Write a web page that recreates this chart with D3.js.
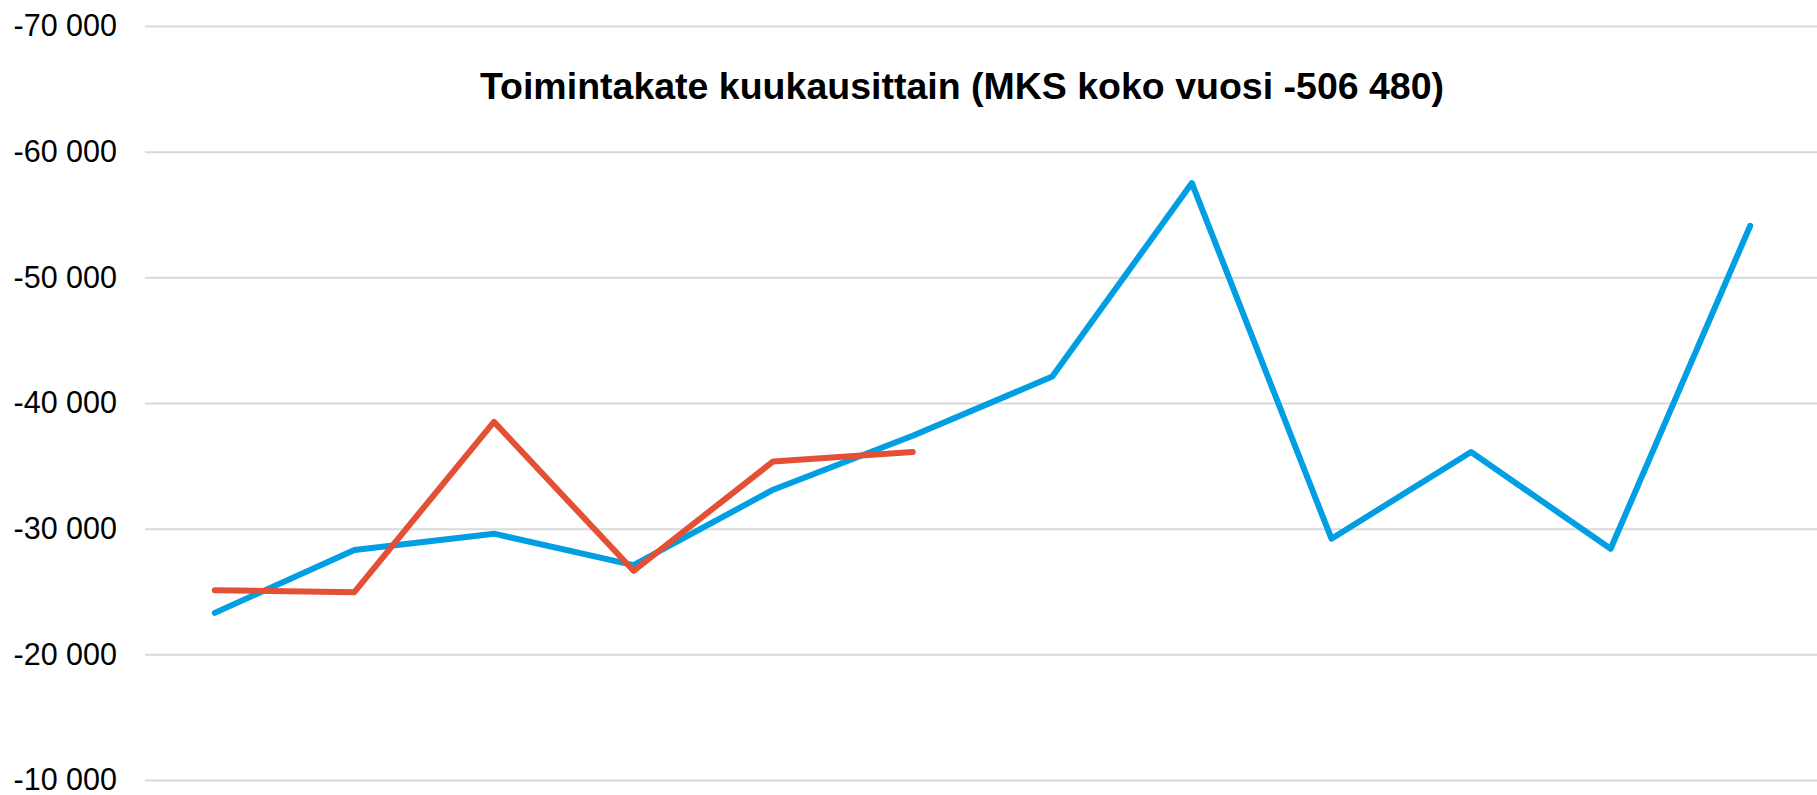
<!DOCTYPE html>
<html>
<head>
<meta charset="utf-8">
<script src="https://cdn.jsdelivr.net/npm/d3@7"></script>
<style>
  html, body { margin: 0; padding: 0; background: #fff; }
  svg { display: block; }
</style>
</head>
<body>
<script>
(function (d3) {
  "use strict";

  /***** Data *****/
  var months = ["1", "2", "3", "4", "5", "6", "7", "8", "9", "10", "11", "12"];
  var edellinenVuosi = [-23300, -28300, -29600, -27100, -33100, -37400,
                        -42100, -57500, -29200, -36100, -28400, -54100];
  var kuluvaVuosi = [-25100, -24950, -38500, -26650, -35350, -36100];
  var yTicks = [-70000, -60000, -50000, -40000, -30000, -20000, -10000];
  var chartTitle = "Toimintakate kuukausittain (MKS koko vuosi -506 480)";

  /***** Configuration *****/
  var width = 1817, height = 795;
  var margin = { top: 26, right: -3, bottom: 15, left: 145 };

  var fiLocale = d3.formatLocale({ decimal: ",", thousands: "\u00a0", grouping: [3], currency: ["", " €"], minus: "-" });
  var fmt = fiLocale.format(",d");

  /***** Scales *****/
  var xScale = d3.scaleBand()
      .domain(months)
      .range([margin.left, width - margin.right]);
  var yScale = d3.scaleLinear()
      .domain([-10000, -70000])
      .range([height - margin.bottom, margin.top]);

  var svg = d3.select("body").append("svg")
      .attr("width", width)
      .attr("height", height);

  /***** Grid + y labels *****/
  var yAxis = d3.axisLeft(yScale)
      .tickValues(yTicks)
      .tickSize(-(width - margin.left))
      .tickPadding(28)
      .tickFormat(fmt);

  var axisG = svg.append("g")
      .attr("transform", "translate(" + margin.left + ",0)")
      .call(yAxis);
  axisG.select(".domain").remove();
  axisG.selectAll(".tick line")
      .attr("stroke", "#d9d9d9")
      .attr("stroke-width", 2);
  axisG.selectAll(".tick text")
      .attr("fill", "#000")
      .style("font-family", "'Liberation Sans', Arial, sans-serif")
      .style("font-size", "30.5px");

  /***** Title *****/
  svg.append("text")
      .attr("x", 962)
      .attr("y", 99)
      .attr("text-anchor", "middle")
      .style("font-family", "'Liberation Sans', Arial, sans-serif")
      .style("font-weight", "bold")
      .style("font-size", "37.5px")
      .text(chartTitle);

  /***** Lines *****/
  var line = d3.line()
      .x(function (d, i) { return xScale(months[i]) + xScale.bandwidth() / 2; })
      .y(function (d) { return yScale(d); });

  svg.append("path")
      .datum(edellinenVuosi)
      .attr("d", line)
      .attr("fill", "none")
      .attr("stroke", "#009fe3")
      .attr("stroke-width", 6)
      .attr("stroke-linejoin", "round")
      .attr("stroke-linecap", "round");

  svg.append("path")
      .datum(kuluvaVuosi)
      .attr("d", line)
      .attr("fill", "none")
      .attr("stroke", "#e35036")
      .attr("stroke-width", 6)
      .attr("stroke-linejoin", "round")
      .attr("stroke-linecap", "round");

})(d3);
</script>
</body>
</html>
